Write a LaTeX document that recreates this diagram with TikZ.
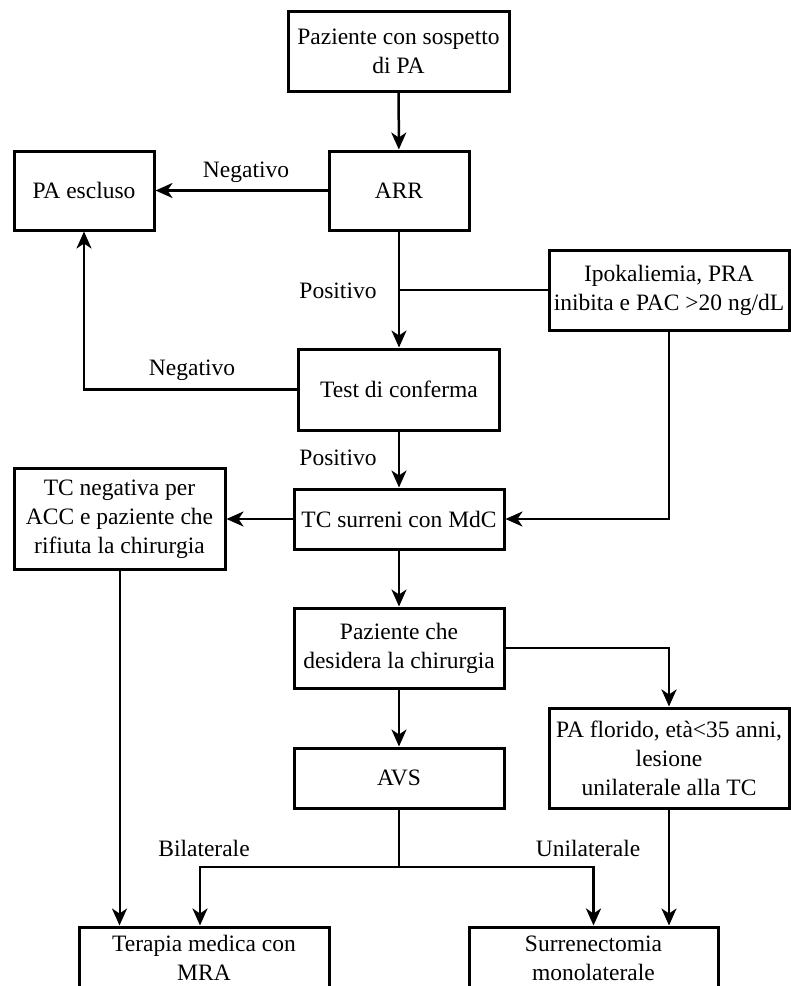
\documentclass[tikz,border=0pt]{standalone}
\usepackage{fontspec}
\setmainfont{Liberation Serif}
\usetikzlibrary{arrows.meta}
\begin{document}
\begin{tikzpicture}[x=1pt,y=-1pt,
  box/.style={draw, line width=3pt, align=center, inner sep=0pt, font=\fontsize{23.5}{29}\selectfont},
  lbl/.style={font=\fontsize{23.5}{29}\selectfont, inner sep=0pt},
  conn/.style={line width=2.5pt, -{Stealth[length=17pt,width=15pt,inset=5pt]}},
  plain/.style={line width=2.5pt}]
\useasboundingbox (0,0) rectangle (791,986);
\clip (0,0) rectangle (791,986);
% boxes
\node[box, minimum width=221pt, minimum height=80pt] (top) at (398.5,51) {Paziente con sospetto\\di PA};
\node[box, minimum width=140pt, minimum height=79pt] (arr) at (399,190.5) {ARR};
\node[box, minimum width=140pt, minimum height=79pt] (esc) at (84,190.5) {PA escluso};
\node[box, minimum width=240pt, minimum height=80pt] (ipo) at (669,290) {Ipokaliemia, PRA\\inibita e PAC >20 ng/dL};
\node[box, minimum width=201pt, minimum height=81pt] (test) at (399,389.5) {Test di conferma};
\node[box, minimum width=210pt, minimum height=60pt] (tcs) at (399,519) {TC surreni con MdC};
\node[box, minimum width=211pt, minimum height=101pt] (tcn) at (119.5,519) {TC negativa per\\ACC e paziente che\\rifiuta la chirurgia};
\node[box, minimum width=210pt, minimum height=80pt] (paz) at (399,648) {Paziente che\\desidera la chirurgia};
\node[box, minimum width=210pt, minimum height=60pt] (avs) at (399,778) {AVS};
\node[box, minimum width=240pt, minimum height=100pt] (flo) at (669,758) {PA florido, età<35 anni,\\lesione\\unilaterale alla TC};
\node[box, minimum width=250pt, minimum height=62pt] (ter) at (204,958) {Terapia medica con\\MRA};
\node[box, minimum width=249pt, minimum height=62pt] (sur) at (593.5,958) {Surrenectomia\\monolaterale};
% labels
\node[lbl] (n1) at (246,172) {Negativo};
\node[lbl] (p1) at (338,291) {Positivo};
\node[lbl] (n2) at (192,370) {Negativo};
\node[lbl] (p2) at (338,458) {Positivo};
\node[lbl] (bi) at (204,848) {Bilaterale};
\node[lbl] (un) at (588,848) {Unilaterale};
% connectors
\draw[conn] (top) -- (arr);
\draw[conn] (arr) -- (esc);
\draw[conn] (arr) -- (test);
\draw[plain] (ipo.west) -- (ipo.west -| arr.south);
\draw[conn] (ipo.south) |- (tcs.east);
\draw[conn] (test.west) -| (esc.south);
\draw[conn] (test) -- (tcs);
\draw[conn] (tcs) -- (tcn);
\draw[conn, line width=2pt] (tcn.south) -- (tcn.south |- ter.north);
\draw[conn] (tcs) -- (paz);
\draw[conn, line width=2.9pt] (paz.east) -| (flo.north);
\draw[conn] (paz) -- (avs);
\coordinate (br) at (399,867);
\draw[plain] (avs.south) -- (br);
\draw[conn, line width=2.9pt] (br) -| ([xshift=-4pt]ter.north);
\draw[conn, line width=2.9pt] (br) -| (sur.north);
\draw[conn] (flo.south) -- (flo.south |- sur.north);
\end{tikzpicture}
\end{document}
